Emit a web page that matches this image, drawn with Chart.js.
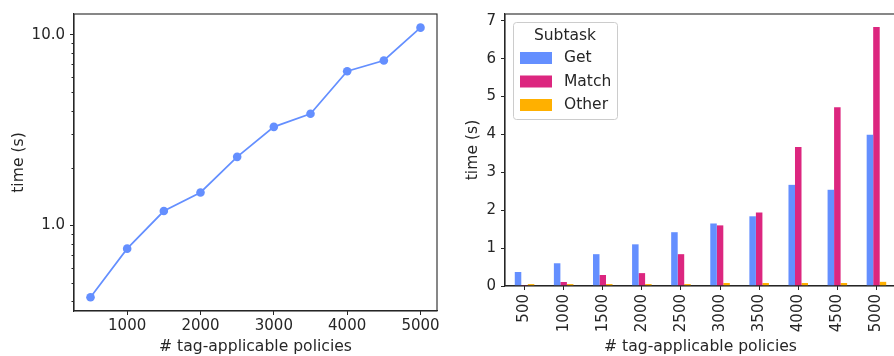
<!DOCTYPE html>
<html lang="en">
<head>
  <meta charset="UTF-8" />
  <title>Policy matching time</title>
  <script src="https://cdn.jsdelivr.net/npm/chart.js"></script>
  <style>
    html, body { margin: 0; padding: 0; background: #fff; }
    body { width: 894px; height: 356px; overflow: hidden; position: relative; }
    canvas { position: absolute; top: 0; }
    #totalChart { left: 0; }
    #subtaskChart { left: 450px; }
  </style>
</head>
<body>
  <canvas id="totalChart" width="450" height="356"></canvas>
  <canvas id="subtaskChart" width="450" height="356"></canvas>

  <script>
    // # tag-applicable policies
    const policies = [500, 1000, 1500, 2000, 2500, 3000, 3500, 4000, 4500, 5000];
    // total time (s), log axis
    const totalTime = [0.42, 0.756, 1.19, 1.49, 2.29, 3.29, 3.85, 6.44, 7.33, 10.9];
    // per-subtask time (s)
    const getTime = [0.37, 0.60, 0.84, 1.10, 1.42, 1.65, 1.84, 2.67, 2.54, 3.99];
    const matchTime = [0.026, 0.105, 0.29, 0.34, 0.84, 1.60, 1.94, 3.67, 4.72, 6.84];
    const otherTime = [0.05, 0.05, 0.05, 0.05, 0.05, 0.08, 0.08, 0.08, 0.08, 0.11];
    const subtasks = ['Get', 'Match', 'Other'];
    const subtaskColors = ['#648FFF', '#DC267F', '#FFB000'];

    const leftXTicks = [1000, 2000, 3000, 4000, 5000];
    const leftYMajor = [1, 10];
    const leftYMinor = [0.4, 0.5, 0.6, 0.7, 0.8, 0.9, 2, 3, 4, 5, 6, 7, 8, 9];
    const rightYTicks = [0, 1, 2, 3, 4, 5, 6, 7];

    const FONT = "'DejaVu Sans', sans-serif";
    const INK = '#262626';
    const titleFont = { size: 15.6 };
    Chart.defaults.font.family = FONT;
    Chart.defaults.font.size = 15;
    Chart.defaults.color = INK;
    Chart.defaults.animation = false;

    // full box around plot area + short minor ticks
    const framePlugin = {
      id: 'frame',
      afterDraw(chart, args, opts) {
        const { ctx, chartArea: a } = chart;
        ctx.save();
        ctx.strokeStyle = INK;
        ctx.lineWidth = 1.1;
        ctx.strokeRect(a.left, a.top, a.right - a.left, a.bottom - a.top);
        if (opts.minor) {
          const y = chart.scales.y;
          ctx.lineWidth = 1;
          ctx.beginPath();
          opts.minor.forEach(v => {
            const py = Math.round(y.getPixelForValue(v)) + 0.5;
            ctx.moveTo(a.left, py);
            ctx.lineTo(a.left - 2.5, py);
          });
          ctx.stroke();
        }
        ctx.restore();
      }
    };

    // legend drawn inside the plot, top-left, like matplotlib
    const innerLegend = {
      id: 'innerLegend',
      afterDraw(chart, args, opts) {
        const { ctx, chartArea: a } = chart;
        const x0 = a.left + 8, y0 = a.top + 8, w = 104, h = 97;
        ctx.save();
        ctx.fillStyle = 'rgba(255,255,255,0.8)';
        ctx.strokeStyle = '#cccccc';
        ctx.lineWidth = 1;
        ctx.beginPath();
        ctx.roundRect(x0 + 0.5, y0 + 0.5, w, h, 3);
        ctx.fill();
        ctx.stroke();
        ctx.fillStyle = INK;
        ctx.font = '15.5px ' + FONT;
        ctx.textBaseline = 'middle';
        ctx.textAlign = 'center';
        ctx.fillText(opts.title, x0 + w / 2, y0 + 13.5);
        ctx.textAlign = 'left';
        chart.data.datasets.forEach((ds, i) => {
          const cy = y0 + 36 + i * 23.5;
          ctx.fillStyle = ds.backgroundColor;
          ctx.fillRect(x0 + 7, cy - 6, 32, 12);
          ctx.fillStyle = INK;
          ctx.fillText(ds.label, x0 + 51, cy);
        });
        ctx.restore();
      }
    };

    function setTicks(values) {
      return scale => { scale.ticks = values.map(v => ({ value: v })); };
    }

    new Chart(document.getElementById('totalChart'), {
      type: 'line',
      data: {
        datasets: [{
          data: policies.map((p, i) => ({ x: p, y: totalTime[i] })),
          borderColor: '#648FFF',
          backgroundColor: '#648FFF',
          borderWidth: 1.7,
          pointRadius: 4.3,
          pointBorderWidth: 0,
          tension: 0
        }]
      },
      options: {
        responsive: false,
        layout: { padding: { top: 12, right: 13, left: 0, bottom: 0 } },
        plugins: {
          legend: { display: false },
          tooltip: { enabled: false },
          frame: { minor: leftYMinor }
        },
        scales: {
          x: {
            type: 'linear',
            min: 275, max: 5225,
            afterBuildTicks: setTicks(leftXTicks),
            afterFit: s => { s.height = 45; },
            grid: { drawOnChartArea: false, tickLength: 4, tickColor: INK },
            border: { color: INK, width: 1.1 },
            ticks: { padding: 2, color: INK, callback: v => String(v) },
            title: { display: true, text: '# tag-applicable policies', font: titleFont, padding: { top: 0, bottom: 0 } }
          },
          y: {
            type: 'logarithmic',
            min: 0.356, max: 12.85,
            afterBuildTicks: setTicks(leftYMajor),
            afterFit: s => { s.width = 74; },
            grid: { drawOnChartArea: false, tickLength: 4, tickColor: INK },
            border: { color: INK, width: 1.1 },
            ticks: { padding: 5, color: INK, callback: v => Number(v).toFixed(1) },
            title: { display: true, text: 'time (s)', font: titleFont, padding: { top: 10, bottom: 0 } }
          }
        }
      },
      plugins: [framePlugin]
    });

    new Chart(document.getElementById('subtaskChart'), {
      type: 'bar',
      data: {
        labels: policies.map(String),
        datasets: [getTime, matchTime, otherTime].map((vals, i) => ({
          label: subtasks[i],
          data: vals,
          backgroundColor: subtaskColors[i],
          borderWidth: 0,
          categoryPercentage: 0.5,
          barPercentage: 1.0
        }))
      },
      options: {
        responsive: false,
        layout: { padding: { top: 12, right: 4, left: 0, bottom: 0 } },
        plugins: {
          legend: { display: false },
          tooltip: { enabled: false },
          innerLegend: { title: 'Subtask' }
        },
        scales: {
          x: {
            afterFit: s => { s.height = 70; },
            grid: { drawOnChartArea: false, offset: false, tickLength: 4, tickColor: INK },
            border: { color: INK, width: 1.1 },
            ticks: { padding: 4, color: INK, minRotation: 90, maxRotation: 90, autoSkip: false },
            title: { display: true, text: '# tag-applicable policies', font: titleFont, padding: { top: 0, bottom: 0 } }
          },
          y: {
            min: 0, max: 7.18,
            afterBuildTicks: setTicks(rightYTicks),
            afterFit: s => { s.width = 55; },
            grid: { drawOnChartArea: false, tickLength: 4, tickColor: INK },
            border: { color: INK, width: 1.1 },
            ticks: { padding: 5, color: INK },
            title: { display: true, text: 'time (s)', font: titleFont, padding: { top: 14, bottom: 0 } }
          }
        }
      },
      plugins: [framePlugin, innerLegend]
    });
  </script>
</body>
</html>
